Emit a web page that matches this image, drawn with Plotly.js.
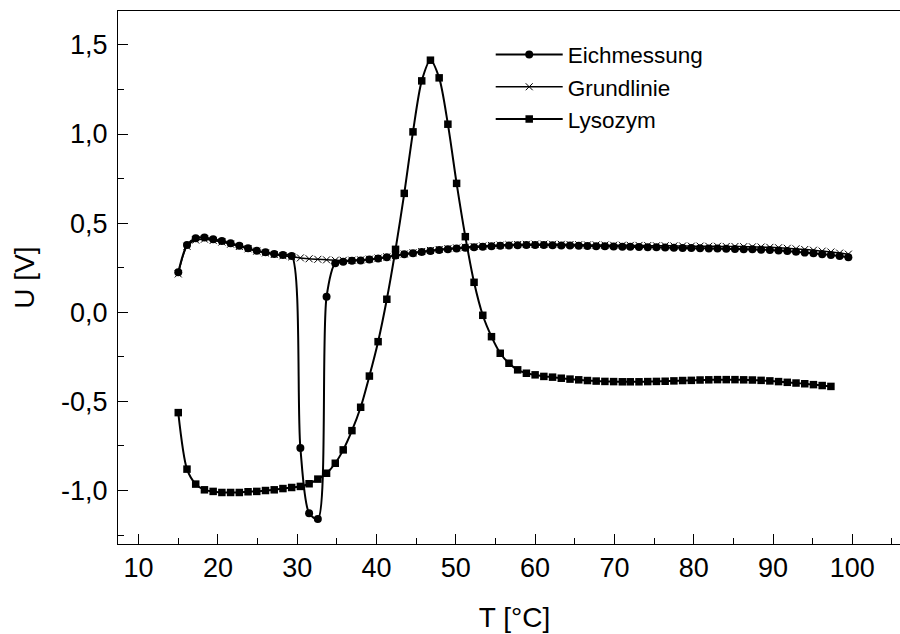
<!DOCTYPE html>
<html>
<head>
<meta charset="utf-8">
<script src="https://cdn.plot.ly/plotly-3.0.1.min.js"></script>
<style>
html, body { margin: 0; padding: 0; overflow: hidden; background: #fff; width: 900px; height: 634px; }
#chart { width: 940px; height: 634px; }
</style>
</head>
<body>
<div id="chart"></div>
<script>
// Temperature samples T [°C]
const tempEich = [15.0, 16.1, 17.2, 18.3, 19.4, 20.5, 21.6, 22.7, 23.8, 24.9,
  26.0, 27.1, 28.2, 29.3, 30.4, 31.5, 32.6, 33.7, 34.8, 35.8,
  36.9, 38.0, 39.1, 40.2, 41.3, 42.4, 43.5, 44.6, 45.7, 46.8,
  47.9, 49.0, 50.1, 51.2, 52.3, 53.4, 54.5, 55.6, 56.7, 57.8,
  58.9, 60.0, 61.1, 62.2, 63.3, 64.4, 65.5, 66.6, 67.7, 68.8,
  69.9, 71.0, 72.0, 73.1, 74.2, 75.3, 76.4, 77.5, 78.6, 79.7,
  80.8, 81.9, 83.0, 84.1, 85.2, 86.3, 87.4, 88.5, 89.6, 90.7,
  91.8, 92.9, 94.0, 95.1, 96.2, 97.3, 98.4, 99.5];
const tempGrund = tempEich;
const tempLyso = [15.0, 16.1, 17.2, 18.3, 19.4, 20.5, 21.6, 22.7, 23.8, 24.9,
  26.0, 27.1, 28.2, 29.3, 30.4, 31.5, 32.6, 33.7, 34.8, 35.8,
  36.9, 38.0, 39.1, 40.2, 41.3, 42.4, 43.5, 44.6, 45.7, 46.8,
  47.9, 49.0, 50.1, 51.2, 52.3, 53.4, 54.5, 55.6, 56.7, 57.8,
  58.9, 60.0, 61.1, 62.2, 63.3, 64.4, 65.5, 66.6, 67.7, 68.8,
  69.9, 71.0, 72.0, 73.1, 74.2, 75.3, 76.4, 77.5, 78.6, 79.7,
  80.8, 81.9, 83.0, 84.1, 85.2, 86.3, 87.4, 88.5, 89.6, 90.7,
  91.8, 92.9, 94.0, 95.1, 96.2, 97.3];

// U [V] values
const uEich = [0.224, 0.377, 0.415, 0.420, 0.409, 0.400, 0.387, 0.373, 0.359, 0.345,
  0.336, 0.327, 0.321, 0.316, -0.762, -1.127, -1.160, 0.087, 0.275, 0.284,
  0.289, 0.291, 0.296, 0.302, 0.309, 0.318, 0.325, 0.331, 0.338, 0.344,
  0.349, 0.354, 0.358, 0.362, 0.365, 0.368, 0.371, 0.373, 0.375, 0.376,
  0.377, 0.377, 0.377, 0.376, 0.375, 0.374, 0.373, 0.372, 0.371, 0.370,
  0.369, 0.368, 0.367, 0.366, 0.365, 0.364, 0.363, 0.362, 0.361, 0.360,
  0.359, 0.358, 0.357, 0.356, 0.355, 0.354, 0.353, 0.351, 0.349, 0.346,
  0.343, 0.339, 0.335, 0.331, 0.326, 0.321, 0.315, 0.308];
const uGrund = [0.215, 0.370, 0.405, 0.410, 0.403, 0.394, 0.382, 0.369, 0.356, 0.343,
  0.333, 0.324, 0.317, 0.311, 0.305, 0.300, 0.297, 0.294, 0.292, 0.291,
  0.292, 0.294, 0.298, 0.304, 0.311, 0.319, 0.327, 0.334, 0.341, 0.347,
  0.352, 0.357, 0.361, 0.365, 0.369, 0.372, 0.375, 0.377, 0.379, 0.380,
  0.381, 0.382, 0.382, 0.381, 0.381, 0.380, 0.379, 0.378, 0.378, 0.377,
  0.376, 0.376, 0.375, 0.375, 0.374, 0.373, 0.373, 0.372, 0.372, 0.371,
  0.371, 0.370, 0.370, 0.369, 0.369, 0.368, 0.367, 0.366, 0.364, 0.362,
  0.359, 0.356, 0.352, 0.348, 0.343, 0.338, 0.332, 0.326];
const uLyso = [-0.563, -0.880, -0.964, -0.996, -1.005, -1.011, -1.011, -1.011, -1.007, -1.005,
  -1.000, -0.996, -0.989, -0.983, -0.977, -0.962, -0.936, -0.903, -0.847, -0.772,
  -0.664, -0.533, -0.358, -0.165, 0.073, 0.353, 0.667, 1.012, 1.298, 1.414,
  1.315, 1.055, 0.723, 0.424, 0.168, -0.017, -0.137, -0.230, -0.286, -0.323,
  -0.342, -0.351, -0.360, -0.364, -0.370, -0.375, -0.379, -0.383, -0.386, -0.388,
  -0.389, -0.390, -0.390, -0.390, -0.389, -0.388, -0.387, -0.385, -0.383, -0.382,
  -0.380, -0.379, -0.378, -0.378, -0.378, -0.379, -0.380, -0.382, -0.385, -0.389,
  -0.393, -0.397, -0.401, -0.406, -0.411, -0.416];

const seriesNames = ['Eichmessung', 'Grundlinie', 'Lysozym'];
const yTickVals = [-1.0, -0.5, 0.0, 0.5, 1.0, 1.5];
const yTickText = ['-1,0', '-0,5', '0,0', '0,5', '1,0', '1,5'];

const FONT = 'Liberation Sans, Arial, sans-serif';

const traces = [
  {
    x: tempEich, y: uEich, name: seriesNames[0], type: 'scatter', mode: 'lines+markers',
    line: {color: '#000', width: 2, shape: 'spline', smoothing: 0.8},
    marker: {symbol: 'circle', size: 8, color: '#000'}
  },
  {
    x: tempGrund, y: uGrund, name: seriesNames[1], type: 'scatter', mode: 'lines+markers',
    line: {color: '#000', width: 1.5, shape: 'spline', smoothing: 0.8},
    marker: {symbol: 'x-thin-open', size: 7, color: '#000', line: {color: '#000', width: 1}}
  },
  {
    x: tempLyso, y: uLyso, name: seriesNames[2], type: 'scatter', mode: 'lines+markers',
    line: {color: '#000', width: 2, shape: 'spline', smoothing: 0.8},
    marker: {symbol: 'square', size: 7.5, color: '#000'}
  }
];

const layout = {
  width: 940, height: 634,
  margin: {l: 118, r: 29, t: 11, b: 90},
  paper_bgcolor: '#fff', plot_bgcolor: '#fff',
  separators: ',.',
  font: {family: FONT, color: '#000', size: 27},
  showlegend: true,
  legend: {
    x: 0.470, y: 0.958, xanchor: 'left', yanchor: 'top',
    bgcolor: 'rgba(0,0,0,0)', borderwidth: 0,
    font: {family: FONT, size: 22.5, color: '#000'},
    itemwidth: 67, tracegroupgap: 0
  },
  xaxis: {
    range: [7.4, 107.4],
    tick0: 0, dtick: 10,
    ticks: 'inside', ticklen: 10, tickwidth: 1, tickcolor: '#000',
    minor: {dtick: 5, tick0: 0, ticks: 'inside', ticklen: 6, tickwidth: 1, tickcolor: '#000'},
    showline: true, linecolor: '#000', linewidth: 1, mirror: true,
    showgrid: false, zeroline: false,
    tickfont: {family: FONT, size: 27, color: '#000'},
    title: {text: 'T [°C]', font: {family: FONT, size: 28, color: '#000'}, standoff: 24}
  },
  yaxis: {
    range: [-1.3, 1.69],
    tickmode: 'array', tickvals: yTickVals, ticktext: yTickText,
    ticks: 'inside', ticklen: 10, tickwidth: 1, tickcolor: '#000',
    minor: {tickmode: 'linear', dtick: 0.25, tick0: 0, ticks: 'inside', ticklen: 6, tickwidth: 1, tickcolor: '#000'},
    showline: true, linecolor: '#000', linewidth: 1, mirror: true,
    showgrid: false, zeroline: false,
    tickfont: {family: FONT, size: 27, color: '#000'},
    ticklabelstandoff: 4,
    title: {text: 'U [V]', font: {family: FONT, size: 28, color: '#000'}, standoff: 18}
  }
};

Plotly.newPlot('chart', traces, layout, {displayModeBar: false, staticPlot: true});
</script>
</body>
</html>
